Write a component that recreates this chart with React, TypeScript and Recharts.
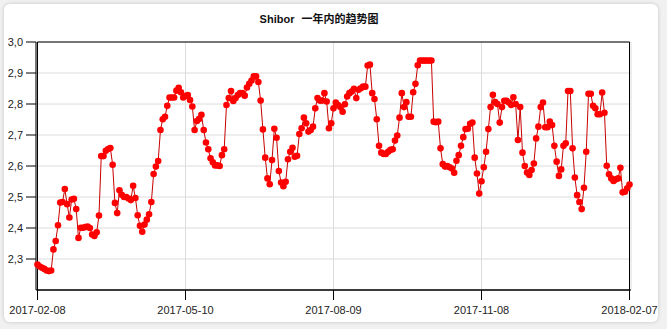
import React from 'react';
import { LineChart, Line, XAxis, YAxis, CartesianGrid, ReferenceArea } from 'recharts';

const titleLatin = 'Shibor';
const titleCjk = '一年内的趋势图';
const startDate = '2017-02-08';
const endDate = '2018-02-07';
const tickLabels = ['2017-02-08', '2017-05-10', '2017-08-09', '2017-11-08', '2018-02-07'];
const yTicks = [2.3, 2.4, 2.5, 2.6, 2.7, 2.8, 2.9, 3.0];

// Shibor values, one per weekday (holidays carry the previous value)
const valuesQ1 = [
  2.282, 2.276, 2.272, 2.268, 2.263, 2.261, 2.263, 2.331, 2.358, 2.409,
  2.482, 2.484, 2.526, 2.477, 2.434, 2.492, 2.494, 2.461, 2.368, 2.401,
  2.401, 2.403, 2.405, 2.400, 2.379, 2.374, 2.386, 2.440, 2.632, 2.632,
  2.649, 2.655, 2.658, 2.604, 2.481, 2.448, 2.522, 2.507, 2.500, 2.500,
  2.495, 2.490, 2.536, 2.497, 2.441, 2.407, 2.388, 2.411, 2.427, 2.444,
  2.484, 2.574, 2.598, 2.616, 2.716, 2.751, 2.759, 2.794, 2.821, 2.821,
  2.821, 2.843, 2.852, 2.838, 2.821,
];
const valuesQ2 = [
  2.826, 2.829, 2.813, 2.792, 2.716, 2.745, 2.752, 2.765, 2.716, 2.676,
  2.654, 2.625, 2.612, 2.602, 2.602, 2.600, 2.635, 2.654, 2.797, 2.819,
  2.842, 2.810, 2.819, 2.829, 2.835, 2.835, 2.827, 2.853, 2.865, 2.876,
  2.889, 2.889, 2.871, 2.811, 2.718, 2.627, 2.560, 2.541, 2.619, 2.720,
  2.691, 2.584, 2.547, 2.535, 2.549, 2.622, 2.646, 2.659, 2.630, 2.633,
  2.703, 2.722, 2.756, 2.738, 2.711, 2.716, 2.727, 2.786, 2.819, 2.811,
  2.811, 2.835, 2.808, 2.722, 2.738,
];
const valuesQ3 = [
  2.786, 2.805, 2.797, 2.790, 2.775, 2.799, 2.824, 2.835, 2.840, 2.849,
  2.819, 2.846, 2.851, 2.856, 2.856, 2.924, 2.927, 2.835, 2.816, 2.751,
  2.665, 2.643, 2.639, 2.639, 2.646, 2.652, 2.654, 2.682, 2.698, 2.756,
  2.835, 2.790, 2.806, 2.759, 2.759, 2.838, 2.865, 2.925, 2.940, 2.940,
  2.940, 2.940, 2.940, 2.940, 2.743, 2.741, 2.743, 2.657, 2.606, 2.598,
  2.600, 2.596, 2.592, 2.578, 2.617, 2.635, 2.665, 2.693, 2.719, 2.720,
  2.736, 2.740, 2.627, 2.576, 2.511,
];
const valuesQ4 = [
  2.551, 2.596, 2.646, 2.719, 2.790, 2.830, 2.806, 2.800, 2.740, 2.790,
  2.810, 2.810, 2.805, 2.797, 2.822, 2.800, 2.684, 2.790, 2.643, 2.600,
  2.579, 2.571, 2.587, 2.608, 2.689, 2.727, 2.790, 2.805, 2.725, 2.725,
  2.743, 2.732, 2.665, 2.614, 2.568, 2.589, 2.665, 2.673, 2.842, 2.842,
  2.657, 2.563, 2.506, 2.484, 2.461, 2.530, 2.646, 2.833, 2.833, 2.794,
  2.786, 2.767, 2.767, 2.837, 2.772, 2.601, 2.573, 2.560, 2.552, 2.557,
  2.560, 2.594, 2.515, 2.517, 2.528, 2.540,
];

const rateValues = [...valuesQ1, ...valuesQ2, ...valuesQ3, ...valuesQ4];

function weekdayDates(start: string, end: string): string[] {
  const out: string[] = [];
  let t = Date.parse(start + 'T00:00:00Z');
  const stop = Date.parse(end + 'T00:00:00Z');
  while (t <= stop) {
    const d = new Date(t);
    const w = d.getUTCDay();
    if (w !== 0 && w !== 6) out.push(d.toISOString().slice(0, 10));
    t += 86400000;
  }
  return out;
}

const dates = weekdayDates(startDate, endDate);
const data = dates.map((date, i) => ({ date, rate: rateValues[i] }));

const font = '"Liberation Sans", Arial, "Noto Sans CJK SC", sans-serif';

export default function App() {
  return (
    <div style={{ position: 'absolute', left: 0, top: 0, width: 667, height: 329, background: '#f1f1f1', overflow: 'hidden' }}>
      <div
        style={{
          position: 'absolute', left: 4, top: 4, width: 654, height: 318,
          background: '#ffffff', borderRadius: 6, boxShadow: '0 0 4px rgba(0,0,0,0.18)',
        }}
      />
      <div
        style={{
          position: 'absolute', left: 0, top: 10, width: 638, textAlign: 'center',
          fontFamily: font, fontWeight: 'bold', fontSize: 11, color: '#111',
        }}
      >
        <span>{titleLatin}</span>
        <span style={{ marginLeft: 7 }}>{titleCjk}</span>
      </div>
      <div style={{ position: 'absolute', left: 0, top: 0 }}>
        <LineChart width={667} height={329} data={data} margin={{ top: 42, right: 36, bottom: 9, left: 0 }}>
          <CartesianGrid stroke="#dcdcdc" strokeWidth={1} />
          <XAxis
            dataKey="date"
            ticks={tickLabels}
            interval={0}
            tickSize={10}
            tickMargin={6}
            height={30}
            padding={{ left: 1.5, right: 1.5 }}
            axisLine={{ stroke: '#000' }}
            tickLine={{ stroke: '#000' }}
            tick={{ fill: '#222', fontSize: 11, fontFamily: font }}
          />
          <YAxis
            domain={[2.2, 3.0]}
            ticks={yTicks}
            width={36}
            tickSize={10}
            tickMargin={3}
            interval={0}
            allowDataOverflow
            axisLine={{ stroke: '#000' }}
            tickLine={{ stroke: '#000' }}
            tick={{ fill: '#222', fontSize: 11, fontFamily: font }}
            tickFormatter={(v: number) => v.toFixed(1).replace('.', ',')}
          />
          <ReferenceArea y1={2.2} y2={3.0} fill="none" stroke="#000" strokeWidth={1} ifOverflow="visible" />
          <Line
            type="linear"
            dataKey="rate"
            stroke="#c80000"
            strokeWidth={1}
            dot={{ r: 3.3, fill: '#ff0000', stroke: 'none' }}
            activeDot={false}
            isAnimationActive={false}
          />
        </LineChart>
      </div>
    </div>
  );
}
